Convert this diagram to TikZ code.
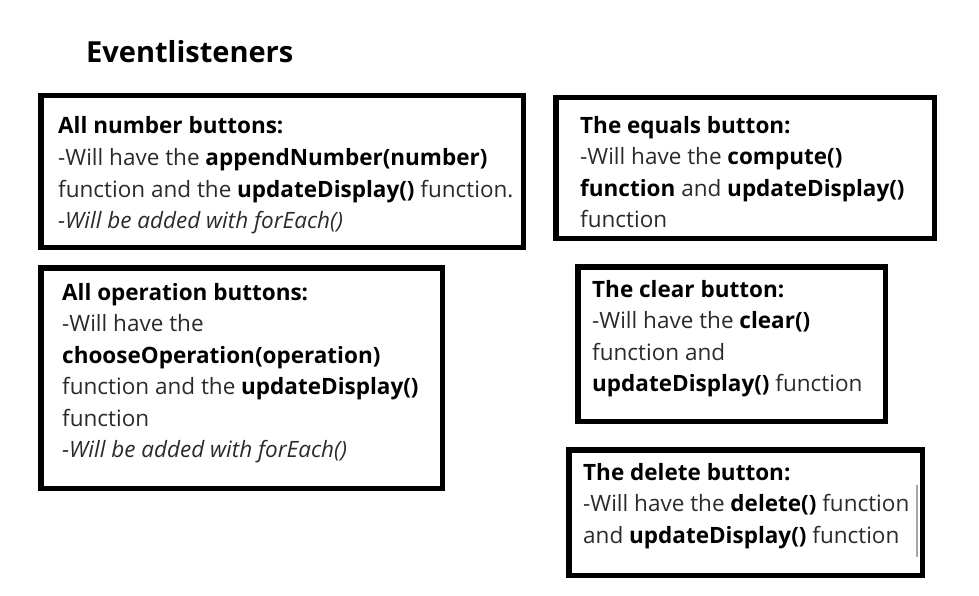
\documentclass[tikz,border=0pt]{standalone}
\usepackage{fontspec}
\setmainfont{Open Sans}
\newfontfamily\titlefont{Open Sans}
\usetikzlibrary{fit}
\definecolor{txtgray}{HTML}{2A2A2A}
\newcommand{\kw}[1]{\textbf{\color{black}#1}}
\tikzset{
  box/.style={draw=black, line width=5.5pt, inner sep=0pt, fill=none},
  body/.style={anchor=base west, inner sep=0pt, align=left, text=txtgray,
    font=\fontsize{22.5}{31.5}\selectfont},
  title/.style={anchor=base west, inner sep=0pt, font=\titlefont\fontsize{29}{34}\selectfont\bfseries},
}
\begin{document}
\begin{tikzpicture}[x=1pt,y=-1pt]
\useasboundingbox (0,0) rectangle (979,596);
\node[title] (ttl) at (86,63) {Eventlisteners};

% base anchor = baseline of the last line
\node[box, fit={(40.75,95.75) (523.25,247.25)}] (b1) {};
\node[body] (t1) at (58,228.5) {\kw{All number buttons:}\\-Will have the \kw{appendNumber(number)}\\function and the \kw{updateDisplay()} function.\\\textit{-Will be added with forEach()}};

\node[box, fit={(555.75,97.75) (934.25,238.25)}] (b2) {};
\node[body] (t2) at (580,227.5) {\kw{The equals button:}\\-Will have the \kw{compute()}\\\kw{function} and \kw{updateDisplay()}\\function};

\node[box, fit={(40.75,267.75) (442.25,488.25)}] (b3) {};
\node[body] (t3) at (62,457.5) {\kw{All operation buttons:}\\-Will have the\\\kw{chooseOperation(operation)}\\function and the \kw{updateDisplay()}\\function\\\textit{-Will be added with forEach()}};

\node[box, fit={(577.75,266.75) (885.25,421.25)}] (b4) {};
\node[body] (t4) at (592,391.5) {\kw{The clear button:}\\-Will have the \kw{clear()}\\function and\\\kw{updateDisplay()} function};

\node[box, fit={(568.75,449.75) (922.25,575.25)}] (b5) {};
\node[body] (t5) at (583,543) {\kw{The delete button:}\\-Will have the \kw{delete()} function\\and \kw{updateDisplay()} function};

\coordinate (c1) at (917,485);
\coordinate (c2) at (917,557);
\draw[gray!70, line width=1.2pt] (c1) -- (c2);
\end{tikzpicture}
\end{document}
